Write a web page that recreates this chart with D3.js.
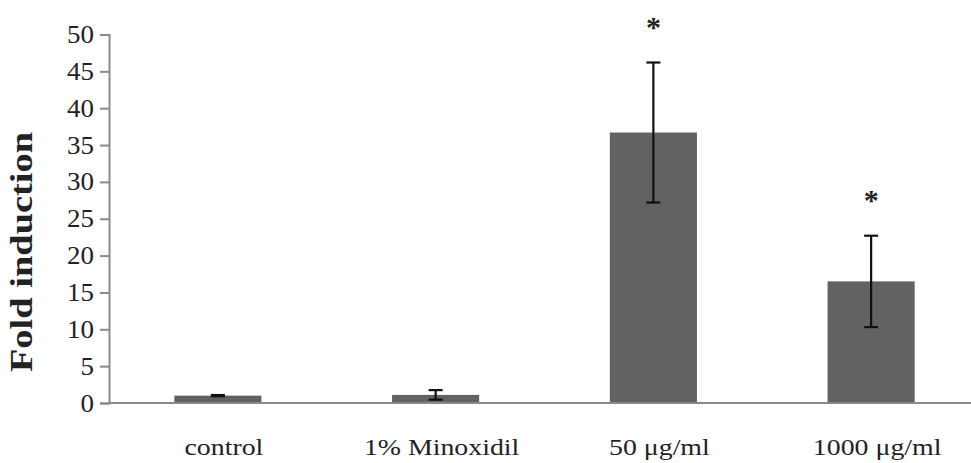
<!DOCTYPE html>
<html>
<head>
<meta charset="utf-8">
<script src="https://cdn.jsdelivr.net/npm/d3@7/dist/d3.min.js"></script>
<style>
html,body{margin:0;padding:0;background:#fff;}
svg{display:block;}
</style>
</head>
<body>
<svg id="chart" width="971" height="463"></svg>
<script>
const categories = ["control", "1% Minoxidil", "50 \u03bcg/ml", "1000 \u03bcg/ml"];
const values = [1.0, 1.1, 36.7, 16.5];
const errors = [0.08, 0.65, 9.5, 6.2];
const significant = [false, false, true, true];
const yTicks = [0, 5, 10, 15, 20, 25, 30, 35, 40, 45, 50];
const yLabel = "Fold induction";

const FONT = '"Liberation Serif", "Times New Roman", Tinos, serif';
const svg = d3.select("#chart");
const x = d3.scaleBand().domain(categories).range([109, 980]).paddingInner(0.6).paddingOuter(0.3);
const y = d3.scaleLinear().domain([0, 50]).range([403, 34.5]);
const axisColor = "#8a8a8a";

// y axis
const yAxis = svg.append("g").attr("transform", "translate(109,0)")
  .call(d3.axisLeft(y).tickValues(yTicks).tickSize(9).tickPadding(6));
yAxis.select(".domain").attr("stroke", axisColor).attr("stroke-width", 2);
yAxis.selectAll(".tick line").attr("stroke", axisColor).attr("stroke-width", 2);
yAxis.selectAll(".tick text")
  .style("font-family", FONT).attr("font-size", 25).attr("fill", "#222")
  .attr("x", -15 / 1.08).attr("transform", "scale(1.08,1)");

// bars
svg.append("g").selectAll("rect").data(categories).join("rect")
  .attr("x", d => x(d)).attr("width", x.bandwidth())
  .attr("y", (d, i) => y(values[i])).attr("height", (d, i) => y(0) - y(values[i]))
  .attr("fill", "#626262");

// x axis line
svg.append("line").attr("x1", 109).attr("x2", 971).attr("y1", y(0)).attr("y2", y(0))
  .attr("stroke", axisColor).attr("stroke-width", 2);

// error bars
const eb = svg.append("g").attr("stroke", "#111").attr("stroke-width", 2.2);
categories.forEach((c, i) => {
  const cx = x(c) + x.bandwidth() / 2;
  const hi = y(values[i] + errors[i]), lo = y(values[i] - errors[i]);
  eb.append("line").attr("x1", cx).attr("x2", cx).attr("y1", hi).attr("y2", lo);
  eb.append("line").attr("x1", cx - 7).attr("x2", cx + 7).attr("y1", hi).attr("y2", hi);
  eb.append("line").attr("x1", cx - 7).attr("x2", cx + 7).attr("y1", lo).attr("y2", lo);
  if (significant[i]) {
    svg.append("text").attr("x", cx).attr("y", hi - 26).attr("text-anchor", "middle")
      .style("font-family", FONT).attr("font-size", 30).attr("font-weight", "bold").attr("fill", "#222")
      .text("*");
  }
});

// x labels
svg.append("g").selectAll("text").data(categories).join("text")
  .attr("transform", d => `translate(${x(d) + x.bandwidth() / 2 + 6},455) scale(1.16,1)`)
  .attr("text-anchor", "middle").style("font-family", FONT).attr("font-size", 24).attr("fill", "#222")
  .text(d => d);

// y label
svg.append("text").attr("transform", "translate(32,252) rotate(-90) scale(1.24,1)")
  .attr("text-anchor", "middle").style("font-family", FONT).attr("font-size", 31).attr("font-weight", "bold")
  .attr("fill", "#222").text(yLabel);
</script>
</body>
</html>
